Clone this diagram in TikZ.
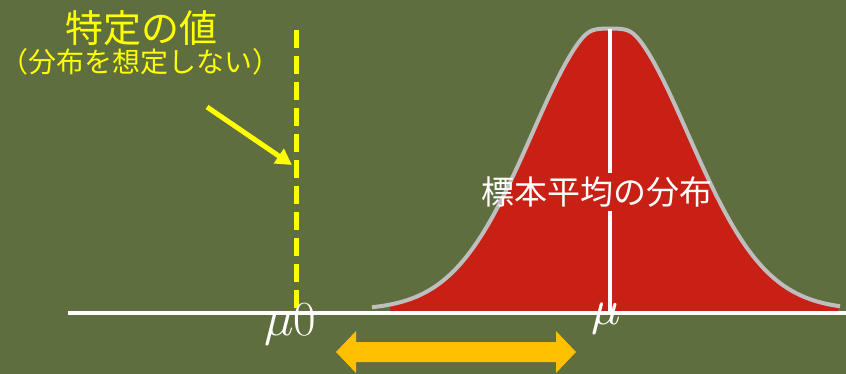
\documentclass[tikz,border=0pt]{standalone}
\usepackage{fontspec}
\newfontfamily\cjk{Noto Sans CJK JP}
\usetikzlibrary{arrows.meta}
\definecolor{bg}{RGB}{95,110,62}
\definecolor{bellred}{RGB}{201,32,21}
\definecolor{bellgray}{RGB}{190,190,190}
\definecolor{yel}{RGB}{255,255,0}
\definecolor{orng}{RGB}{255,192,0}
\tikzset{
  ytext/.style={text=yel, font=\cjk, inner sep=0pt},
  wlabel/.style={text=white, inner sep=0pt},
  declare function={yr(\t)=310-290*exp(-((\t-610)/78)^2/2);
    bell(\t)=(yr(\t)>50) ? yr(\t) : 28+4*ln(1+exp(min((yr(\t)-28)/4,6)));},
}
\begin{document}
\begin{tikzpicture}[x=1pt,y=-1pt]
\fill[bg] (0,0) rectangle (846,374);
\useasboundingbox (0,0) rectangle (846,374);
% bell curve
\fill[bellred] plot[domain=390:838, samples=200] (\x,{bell(\x)}) -- (838,311) -- (390,311) -- cycle;
\draw[bellgray, line width=4pt, line join=round] plot[domain=372:840, samples=200] (\x,{bell(\x)});
% mean line
\coordinate (top) at (610,29);
\coordinate (bot) at (610,311);
\node[wlabel, font=\cjk\fontsize{33}{38}\selectfont, inner ysep=4pt] (lab) at (597,192) {標本平均の分布};
\draw[white, line width=4pt] (top) -- (top |- lab.north);
\draw[white, line width=4pt] (bot |- lab.south) -- (bot);
% axis
\coordinate (axL) at (68,313);
\coordinate (axR) at (846,313);
% dashed yellow line
\coordinate (dtop) at (296,30);
\coordinate (dbot) at (296,311);
\draw[yel, line width=5pt, dash pattern=on 18pt off 8pt] (dtop) -- (dbot);
\draw[white, line width=4pt] (axL) -- (axR);
% labels
\node[ytext, font=\cjk\fontsize{38}{42}\selectfont] (t1) at (141,28) {特定の値};
\node[ytext, font=\cjk\fontsize{28}{31}\selectfont] (t2) at (141,62) {（分布を想定しない）};
\coordinate (as) at (207,107);
\coordinate (ae) at (292,165);
\draw[yel, line width=5pt, -{Triangle[length=16pt,width=17pt]}] (as) -- (ae);
\node[wlabel, anchor=base west] (mu0) at (264,335) {\scalebox{4.9}{$\mu$}\fontsize{49}{54}\selectfont 0};
\node[wlabel, anchor=base west] (mu) at (591,324) {\scalebox{4.9}{$\mu$}};
% double arrow
\fill[orng] (336,352) -- (356,331) -- (356,342) -- (556,342) -- (556,331) -- (576,352) -- (556,373) -- (556,362) -- (356,362) -- (356,373) -- cycle;
\end{tikzpicture}
\end{document}
